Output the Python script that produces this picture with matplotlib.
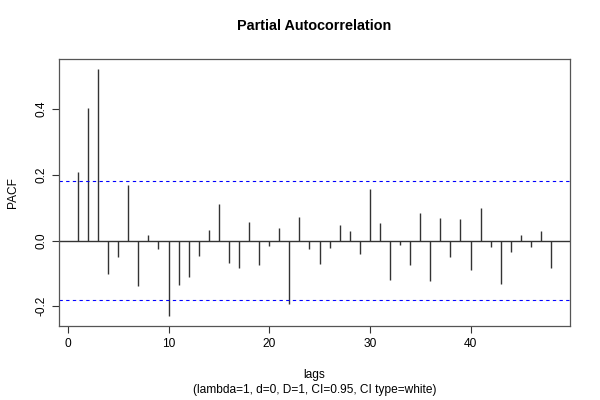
import numpy as np
import matplotlib
matplotlib.use("Agg")
import matplotlib.pyplot as plt

# partial autocorrelations, lags 1..48
lags = np.arange(1, 49)
pacf = [0.208, 0.404, 0.522, -0.101, -0.051, 0.169, -0.139, 0.018, -0.026, -0.230,
        -0.135, -0.112, -0.047, 0.033, 0.112, -0.067, -0.083, 0.055, -0.075, -0.016,
        0.038, -0.194, 0.072, -0.026, -0.071, -0.023, 0.046, 0.029, -0.040, 0.157,
        0.052, -0.121, -0.015, -0.073, 0.084, -0.123, 0.069, -0.051, 0.065, -0.091,
        0.099, -0.020, -0.133, -0.034, 0.018, -0.020, 0.029, -0.083]
ci = 0.181
xticks = [0, 10, 20, 30, 40]
yticks = [-0.2, 0.0, 0.2, 0.4]

plt.rcParams['font.family'] = ['Liberation Sans', 'DejaVu Sans']

fig = plt.figure(figsize=(6, 4), dpi=100)
ax = fig.add_axes([59/600, 1-326/400, (570-59)/600, (326-59)/400])

ax.vlines(lags, 0, pacf, color='#333333', linewidth=1)
ax.axhline(0, color='#333333', linewidth=1)
ax.axhline(ci, color='blue', linestyle=(0, (3, 3)), linewidth=0.8)
ax.axhline(-ci, color='blue', linestyle=(0, (3, 3)), linewidth=0.8)

ax.set_xlim(-0.88, 49.88)
ax.set_ylim(-0.26, 0.552)
ax.set_xticks(xticks)
ax.set_yticks(yticks)
ax.set_yticklabels(['-0.2', '0.0', '0.2', '0.4'], rotation=90, va='center')
ax.tick_params(labelsize=8.6, length=5, width=0.8, color='#333333')
for s in ax.spines.values():
    s.set_color('#555555')
    s.set_linewidth(0.9)

ax.set_ylabel('PACF', fontsize=8.6, labelpad=12)
ax.set_xlabel('lags\n(lambda=1, d=0, D=1, CI=0.95, CI type=white)', fontsize=8.6, labelpad=14,
              linespacing=1.35)
ax.set_title('Partial Autocorrelation', fontsize=10.4, fontweight='bold', pad=21)

fig.savefig('out.png', dpi=100)
